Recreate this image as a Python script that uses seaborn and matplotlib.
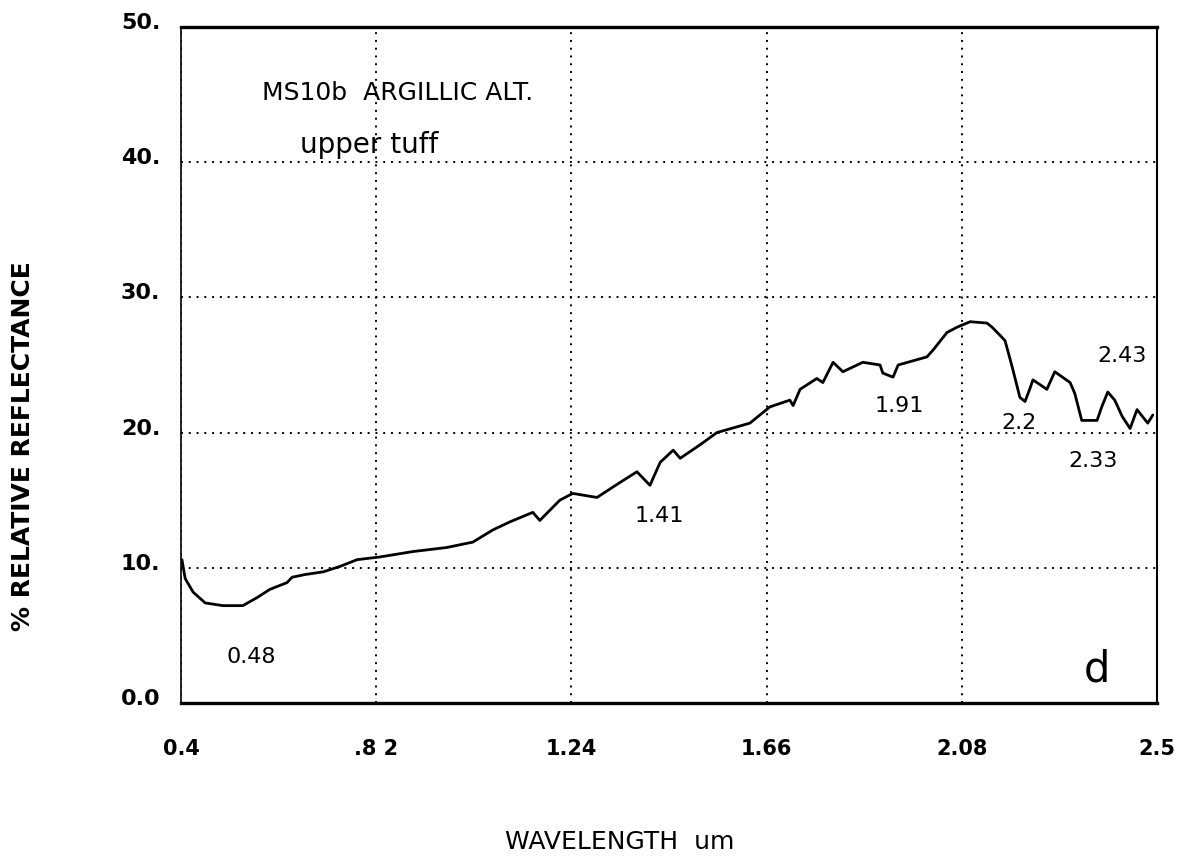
import matplotlib
matplotlib.use("Agg")
import matplotlib.pyplot as plt
import matplotlib.transforms as mtransforms
import numpy as np
import pandas as pd
import seaborn as sns

# spectrum (wavelength in um, % reflectance)
wavelength = [0.402, 0.409, 0.426, 0.452, 0.490, 0.533, 0.564, 0.591, 0.628, 0.639,
              0.667, 0.706, 0.742, 0.779, 0.828, 0.899, 0.972, 1.028, 1.071, 1.108,
              1.157, 1.172, 1.215, 1.243, 1.295, 1.344, 1.381, 1.409, 1.431, 1.459,
              1.474, 1.517, 1.553, 1.624, 1.667, 1.710, 1.717, 1.732, 1.768, 1.781,
              1.803, 1.824, 1.867, 1.904, 1.910, 1.932, 1.943, 2.005, 2.018, 2.048,
              2.070, 2.098, 2.134, 2.145, 2.162, 2.173, 2.188, 2.205, 2.216, 2.227,
              2.233, 2.263, 2.280, 2.313, 2.323, 2.338, 2.371, 2.381, 2.394, 2.409,
              2.425, 2.442, 2.457, 2.480, 2.491]
reflectance = [10.6, 9.2, 8.2, 7.4, 7.2, 7.2, 7.8, 8.4, 8.9, 9.3,
               9.5, 9.7, 10.1, 10.6, 10.8, 11.2, 11.5, 11.9, 12.8, 13.4,
               14.1, 13.5, 15.0, 15.5, 15.2, 16.3, 17.1, 16.1, 17.8, 18.7,
               18.1, 19.1, 20.0, 20.7, 21.9, 22.4, 22.0, 23.2, 24.0, 23.7,
               25.2, 24.5, 25.2, 25.0, 24.4, 24.1, 25.0, 25.6, 26.1, 27.4,
               27.8, 28.2, 28.1, 27.8, 27.2, 26.8, 24.9, 22.6, 22.3, 23.3,
               23.9, 23.2, 24.5, 23.7, 22.9, 20.9, 20.9, 21.9, 23.0, 22.4,
               21.2, 20.3, 21.7, 20.7, 21.3]

xticks = [0.4, 0.82, 1.24, 1.66, 2.08, 2.5]
xtick_labels = ["0.4", ".8 2", "1.24", "1.66", "2.08", "2.5"]
yticks = [0, 10, 20, 30, 40, 50]
ytick_labels = ["0.0", "10.", "20.", "30.", "40.", "50."]

# feature labels: (text, x, y)
band_labels = [("0.48", 0.551, 3.4), ("1.41", 1.428, 13.8), ("1.91", 1.945, 22.0),
               ("2.2", 2.203, 20.7), ("2.33", 2.362, 17.9), ("2.43", 2.424, 25.7)]

sns.set_style("white")
plt.rcParams["font.family"] = ["DejaVu Sans"]
plt.rcParams["text.color"] = "black"
plt.rcParams["axes.labelcolor"] = "black"
plt.rcParams["xtick.color"] = "black"
plt.rcParams["ytick.color"] = "black"

fig = plt.figure(figsize=(11.98, 8.6), dpi=100)
ax = fig.add_axes([0.1511, 0.1826, 0.8147, 0.786])

df = pd.DataFrame({"wl": wavelength, "refl": reflectance})
sns.lineplot(data=df, x="wl", y="refl", ax=ax, color="black", lw=2, estimator=None)

ax.set_xlim(0.4, 2.5)
ax.set_ylim(0, 50)
ax.set_xticks(xticks)
ax.set_xticklabels(xtick_labels, fontsize=15, fontweight="bold")
ax.set_yticks(yticks)
ax.set_yticklabels(ytick_labels, fontsize=16, fontweight="bold")
ax.tick_params(axis="both", length=0)
ax.tick_params(axis="x", pad=26)
ax.tick_params(axis="y", pad=15)
off = mtransforms.ScaledTranslation(0, 6 / 100, fig.dpi_scale_trans)
for lab in ax.get_yticklabels():
    lab.set_transform(lab.get_transform() + off)

ax.grid(True, color="black", linestyle=(0, (1, 3)), lw=1.4)

for side, w in [("top", 2.4), ("bottom", 2.4), ("left", 1.2), ("right", 1.5)]:
    ax.spines[side].set_visible(True)
    ax.spines[side].set_color("black")
    ax.spines[side].set_linewidth(w)

ax.set_xlabel("WAVELENGTH  um", fontsize=18)
ax.xaxis.set_label_coords(0.449, -0.188)
ax.set_ylabel("% RELATIVE REFLECTANCE", fontsize=18, fontweight="bold")
ax.yaxis.set_label_coords(-0.150, 0.38)

ax.text(0.574, 45.1, "MS10b  ARGILLIC ALT.", fontsize=18, va="center", ha="left")
ax.text(0.656, 40.7, "upper tuff", fontsize=20, va="baseline", ha="left")
for txt, x, y in band_labels:
    ax.text(x, y, txt, fontsize=16, ha="center", va="center")
ax.text(2.371, 2.5, "d", fontsize=30, ha="center", va="center")

fig.savefig("out.png", dpi=100)
